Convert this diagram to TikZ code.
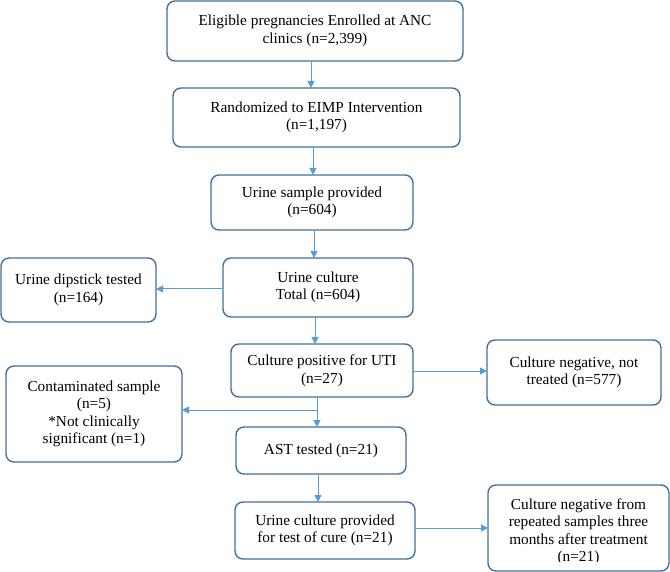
\documentclass[tikz,border=0pt]{standalone}
\usepackage{fontspec}
\setmainfont{Liberation Serif}
\usetikzlibrary{arrows.meta}
\definecolor{boxblue}{HTML}{41719C}
\definecolor{arrblue}{HTML}{5B9BD5}
\begin{document}
\begin{tikzpicture}[x=1pt,y=-1pt,
  txt/.style={align=center, inner sep=0pt, outer sep=0pt, font=\fontsize{15.3}{17.5}\selectfont},
  box/.style={txt, draw=boxblue, line width=1.4pt, rounded corners=8pt, fill=white},
  arr/.style={draw=arrblue, line width=1pt, -{Triangle[length=7pt,width=7pt]}}]
\useasboundingbox (0,0) rectangle (670,572);

\node[box, minimum width=296pt, minimum height=60pt] (b1) at (315,31) {Eligible pregnancies Enrolled at ANC\\clinics (n=2,399)};
\node[box, minimum width=287pt, minimum height=59pt] (b2) at (316.5,117.5) {Randomized to EIMP Intervention\\(n=1,197)};
\node[box, minimum width=202pt, minimum height=55pt] (b3) at (312,202.5) {Urine sample provided\\(n=604)};
\node[box, minimum width=190pt, minimum height=59pt] (b4) at (318,287.5) {Urine culture\\Total (n=604)};
\node[box, minimum width=155pt, minimum height=64pt] (dip) at (78.5,290) {Urine dipstick tested\\(n=164)};
\node[box, minimum width=182pt, minimum height=53pt] (b5) at (322,370.5) {Culture positive for UTI\\(n=27)};
\node[box, minimum width=174pt, minimum height=65pt] (neg1) at (574,372.5) {Culture negative, not\\treated (n=577)};
\node[box, minimum width=176pt, minimum height=96pt] (cont) at (94,414) {Contaminated sample\\(n=5)\\*Not clinically\\significant (n=1)};
\node[box, minimum width=170pt, minimum height=47pt] (ast) at (321,450.5) {AST tested (n=21)};
\node[box, minimum width=180pt, minimum height=57pt] (b7) at (325,530.5) {Urine culture provided\\for test of cure (n=21)};
\node[box, minimum width=181pt, minimum height=86pt] (neg2) at (578.5,528) {};
\begin{scope}
  \clip (488,485) rectangle (669,561.5);
  \node[txt] (neg2t) at (578.5,531.5) {Culture negative from\\repeated samples three\\months after treatment\\(n=21)};
\end{scope}

\coordinate (v1) at (311,0);
\coordinate (v2) at (313,0);
\coordinate (v3) at (314,0);
\coordinate (v4) at (315,0);
\coordinate (v6) at (318,0);
\coordinate (h1) at (0,289);
\coordinate (h2) at (0,371);
\coordinate (h3) at (0,528);
\coordinate (br) at (317,410);

\draw[arr] (b1.south -| v1) -- (b2.north -| v1);
\draw[arr] (b2.south -| v2) -- (b3.north -| v2);
\draw[arr] (b3.south -| v3) -- (b4.north -| v3);
\draw[arr] (b4.south -| v4) -- (b5.north -| v4);
\draw[arr] (b4.west |- h1) -- (dip.east |- h1);
\draw[arr] (b5.east |- h2) -- (neg1.west |- h2);
\draw[arr] (b5.south -| br) -- (ast.north -| br);
\draw[arr] (br) -- (cont.east |- br);
\draw[arr] (ast.south -| v6) -- (b7.north -| v6);
\draw[arr] (b7.east |- h3) -- (neg2.west |- h3);
\end{tikzpicture}
\end{document}
